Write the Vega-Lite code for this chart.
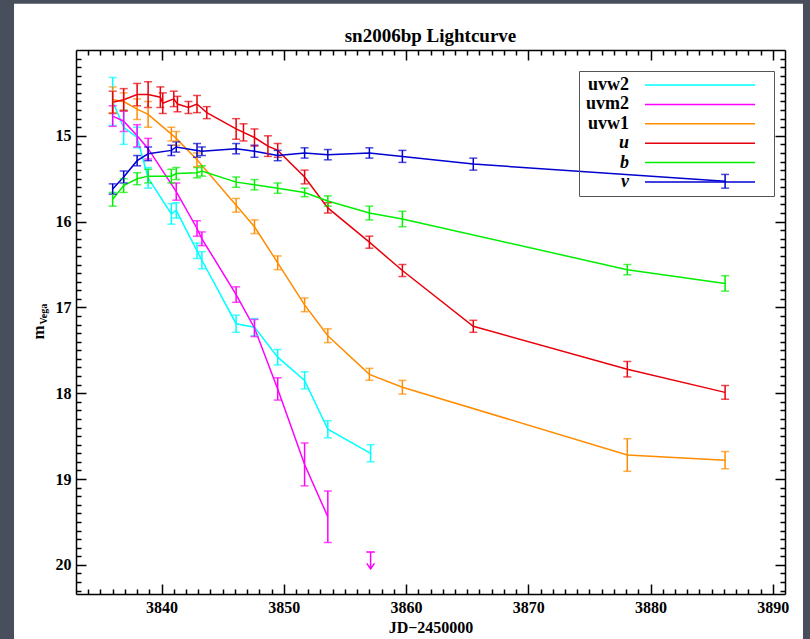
{
  "$schema": "https://vega.github.io/schema/vega-lite/v6.json",
  "width": 709,
  "height": 544,
  "autosize": "none",
  "padding": {"left": 76, "top": 50, "right": 25, "bottom": 45},
  "background": "#484e5b",
  "title": {"text": "sn2006bp Lightcurve", "font": "Liberation Serif", "fontSize": 19, "fontWeight": "bold", "color": "black", "anchor": "middle", "offset": -57, "baseline": "alphabetic"},
  "datasets": {
    "phot": [
      {"band": "uvw2", "jd": 3836.0, "mag": 14.60, "err": 0.28},
      {"band": "uvw2", "jd": 3836.9, "mag": 14.90, "err": 0.20},
      {"band": "uvw2", "jd": 3838.0, "mag": 15.02, "err": 0.12},
      {"band": "uvw2", "jd": 3838.9, "mag": 15.49, "err": 0.12},
      {"band": "uvw2", "jd": 3840.8, "mag": 15.91, "err": 0.12},
      {"band": "uvw2", "jd": 3841.2, "mag": 15.87, "err": 0.09},
      {"band": "uvw2", "jd": 3842.9, "mag": 16.34, "err": 0.09},
      {"band": "uvw2", "jd": 3843.3, "mag": 16.45, "err": 0.10},
      {"band": "uvw2", "jd": 3846.1, "mag": 17.19, "err": 0.10},
      {"band": "uvw2", "jd": 3847.6, "mag": 17.23, "err": 0.10},
      {"band": "uvw2", "jd": 3849.5, "mag": 17.58, "err": 0.09},
      {"band": "uvw2", "jd": 3851.7, "mag": 17.85, "err": 0.10},
      {"band": "uvw2", "jd": 3853.6, "mag": 18.42, "err": 0.10},
      {"band": "uvw2", "jd": 3857.1, "mag": 18.70, "err": 0.10},
      {"band": "uvm2", "jd": 3836.0, "mag": 14.77, "err": 0.12},
      {"band": "uvm2", "jd": 3836.9, "mag": 14.83, "err": 0.12},
      {"band": "uvm2", "jd": 3838.0, "mag": 15.00, "err": 0.13},
      {"band": "uvm2", "jd": 3838.9, "mag": 15.15, "err": 0.12},
      {"band": "uvm2", "jd": 3841.2, "mag": 15.65, "err": 0.10},
      {"band": "uvm2", "jd": 3842.9, "mag": 16.08, "err": 0.09},
      {"band": "uvm2", "jd": 3843.3, "mag": 16.20, "err": 0.08},
      {"band": "uvm2", "jd": 3846.1, "mag": 16.85, "err": 0.09},
      {"band": "uvm2", "jd": 3847.6, "mag": 17.24, "err": 0.10},
      {"band": "uvm2", "jd": 3849.5, "mag": 17.95, "err": 0.13},
      {"band": "uvm2", "jd": 3851.7, "mag": 18.83, "err": 0.25},
      {"band": "uvm2", "jd": 3853.6, "mag": 19.44, "err": 0.30},
      {"band": "uvw1", "jd": 3836.0, "mag": 14.58, "err": 0.15},
      {"band": "uvw1", "jd": 3836.9, "mag": 14.60, "err": 0.10},
      {"band": "uvw1", "jd": 3838.0, "mag": 14.69, "err": 0.12},
      {"band": "uvw1", "jd": 3838.9, "mag": 14.75, "err": 0.15},
      {"band": "uvw1", "jd": 3840.8, "mag": 14.98, "err": 0.08},
      {"band": "uvw1", "jd": 3841.2, "mag": 15.03, "err": 0.08},
      {"band": "uvw1", "jd": 3842.9, "mag": 15.28, "err": 0.08},
      {"band": "uvw1", "jd": 3846.1, "mag": 15.81, "err": 0.08},
      {"band": "uvw1", "jd": 3847.6, "mag": 16.06, "err": 0.08},
      {"band": "uvw1", "jd": 3849.5, "mag": 16.48, "err": 0.08},
      {"band": "uvw1", "jd": 3851.7, "mag": 16.97, "err": 0.08},
      {"band": "uvw1", "jd": 3853.6, "mag": 17.33, "err": 0.08},
      {"band": "uvw1", "jd": 3857.0, "mag": 17.78, "err": 0.07},
      {"band": "uvw1", "jd": 3859.7, "mag": 17.93, "err": 0.08},
      {"band": "uvw1", "jd": 3878.1, "mag": 18.72, "err": 0.19},
      {"band": "uvw1", "jd": 3886.1, "mag": 18.78, "err": 0.10},
      {"band": "u", "jd": 3836.0, "mag": 14.61, "err": 0.13},
      {"band": "u", "jd": 3836.9, "mag": 14.58, "err": 0.13},
      {"band": "u", "jd": 3838.0, "mag": 14.52, "err": 0.13},
      {"band": "u", "jd": 3838.9, "mag": 14.52, "err": 0.15},
      {"band": "u", "jd": 3839.9, "mag": 14.55, "err": 0.12},
      {"band": "u", "jd": 3840.1, "mag": 14.62, "err": 0.12},
      {"band": "u", "jd": 3841.0, "mag": 14.57, "err": 0.09},
      {"band": "u", "jd": 3841.3, "mag": 14.63, "err": 0.09},
      {"band": "u", "jd": 3842.2, "mag": 14.67, "err": 0.07},
      {"band": "u", "jd": 3842.9, "mag": 14.63, "err": 0.10},
      {"band": "u", "jd": 3843.7, "mag": 14.73, "err": 0.07},
      {"band": "u", "jd": 3846.1, "mag": 14.92, "err": 0.12},
      {"band": "u", "jd": 3846.7, "mag": 14.96, "err": 0.10},
      {"band": "u", "jd": 3847.6, "mag": 15.02, "err": 0.10},
      {"band": "u", "jd": 3848.7, "mag": 15.12, "err": 0.12},
      {"band": "u", "jd": 3849.5, "mag": 15.17, "err": 0.08},
      {"band": "u", "jd": 3851.7, "mag": 15.48, "err": 0.08},
      {"band": "u", "jd": 3853.6, "mag": 15.84, "err": 0.06},
      {"band": "u", "jd": 3857.0, "mag": 16.24, "err": 0.07},
      {"band": "u", "jd": 3859.7, "mag": 16.57, "err": 0.07},
      {"band": "u", "jd": 3865.5, "mag": 17.22, "err": 0.07},
      {"band": "u", "jd": 3878.1, "mag": 17.72, "err": 0.09},
      {"band": "u", "jd": 3886.1, "mag": 17.99, "err": 0.08},
      {"band": "b", "jd": 3836.0, "mag": 15.74, "err": 0.08},
      {"band": "b", "jd": 3836.9, "mag": 15.58, "err": 0.08},
      {"band": "b", "jd": 3838.0, "mag": 15.50, "err": 0.07},
      {"band": "b", "jd": 3838.9, "mag": 15.47, "err": 0.08},
      {"band": "b", "jd": 3840.8, "mag": 15.47, "err": 0.08},
      {"band": "b", "jd": 3841.2, "mag": 15.44, "err": 0.07},
      {"band": "b", "jd": 3842.9, "mag": 15.43, "err": 0.06},
      {"band": "b", "jd": 3843.3, "mag": 15.41, "err": 0.06},
      {"band": "b", "jd": 3846.1, "mag": 15.54, "err": 0.06},
      {"band": "b", "jd": 3847.6, "mag": 15.57, "err": 0.06},
      {"band": "b", "jd": 3849.5, "mag": 15.61, "err": 0.06},
      {"band": "b", "jd": 3851.7, "mag": 15.66, "err": 0.05},
      {"band": "b", "jd": 3853.6, "mag": 15.76, "err": 0.06},
      {"band": "b", "jd": 3857.0, "mag": 15.90, "err": 0.08},
      {"band": "b", "jd": 3859.7, "mag": 15.97, "err": 0.09},
      {"band": "b", "jd": 3878.1, "mag": 16.56, "err": 0.06},
      {"band": "b", "jd": 3886.1, "mag": 16.72, "err": 0.09},
      {"band": "v", "jd": 3836.0, "mag": 15.62, "err": 0.06},
      {"band": "v", "jd": 3836.9, "mag": 15.48, "err": 0.07},
      {"band": "v", "jd": 3838.0, "mag": 15.29, "err": 0.06},
      {"band": "v", "jd": 3838.9, "mag": 15.21, "err": 0.08},
      {"band": "v", "jd": 3840.8, "mag": 15.17, "err": 0.06},
      {"band": "v", "jd": 3841.2, "mag": 15.13, "err": 0.06},
      {"band": "v", "jd": 3842.9, "mag": 15.17, "err": 0.08},
      {"band": "v", "jd": 3843.3, "mag": 15.18, "err": 0.05},
      {"band": "v", "jd": 3846.1, "mag": 15.15, "err": 0.06},
      {"band": "v", "jd": 3847.6, "mag": 15.18, "err": 0.07},
      {"band": "v", "jd": 3849.5, "mag": 15.23, "err": 0.06},
      {"band": "v", "jd": 3851.7, "mag": 15.20, "err": 0.06},
      {"band": "v", "jd": 3853.6, "mag": 15.22, "err": 0.06},
      {"band": "v", "jd": 3857.0, "mag": 15.20, "err": 0.06},
      {"band": "v", "jd": 3859.7, "mag": 15.24, "err": 0.07},
      {"band": "v", "jd": 3865.5, "mag": 15.33, "err": 0.07},
      {"band": "v", "jd": 3886.1, "mag": 15.53, "err": 0.08}
    ],
    "lim": [
      {"band": "uvm2", "jd": 3857.1, "mag": 19.85}
    ]
  },
  "layer": [
    {
      "data": {"values": [{"k": 1}]},
      "mark": {"type": "rect", "fill": "white", "clip": false},
      "encoding": {
        "x": {"datum": 3827.93, "type": "quantitative", "scale": {"domain": [3833, 3891], "nice": false, "zero": false},
              "axis": {"orient": "top", "values": [3840, 3850, 3860, 3870, 3880, 3890], "tickSize": -10, "tickWidth": 1.5, "tickColor": "black", "labels": false, "domain": true, "domainColor": "black", "domainWidth": 1.5, "grid": false, "title": null, "zindex": 1}},
        "x2": {"datum": 3892.47},
        "y": {"datum": 13.46, "type": "quantitative", "scale": {"domain": [14, 20.34], "reverse": true, "nice": false, "zero": false},
              "axis": {"orient": "right", "values": [15, 16, 17, 18, 19, 20], "tickSize": -10, "tickWidth": 1.5, "tickColor": "black", "labels": false, "domain": true, "domainColor": "black", "domainWidth": 1.5, "grid": false, "title": null, "zindex": 1}},
        "y2": {"datum": 21.0}
      }
    },
    {
      "data": {"name": "phot"},
      "mark": {"type": "line", "strokeWidth": 1.5},
      "encoding": {
        "x": {"field": "jd", "type": "quantitative", "scale": {"domain": [3833, 3891], "nice": false, "zero": false},
              "axis": {"orient": "bottom", "values": [3840, 3850, 3860, 3870, 3880, 3890], "format": "d", "tickSize": -10, "tickWidth": 1.5, "tickColor": "black", "domain": true, "domainColor": "black", "domainWidth": 1.5, "grid": false, "zindex": 1,
                       "labelFont": "Liberation Serif", "labelFontSize": 16, "labelFontWeight": "bold", "labelColor": "black", "labelPadding": 15, "labelFlush": false, "labelOverlap": false,
                       "title": "JD−2450000", "titleFont": "Liberation Serif", "titleFontSize": 16, "titleFontWeight": "bold", "titleColor": "black", "titlePadding": 4}},
        "y": {"field": "mag", "type": "quantitative", "scale": {"domain": [14, 20.34], "reverse": true, "nice": false, "zero": false},
              "axis": {"orient": "left", "values": [15, 16, 17, 18, 19, 20], "format": "d", "tickSize": -10, "tickWidth": 1.5, "tickColor": "black", "domain": true, "domainColor": "black", "domainWidth": 1.5, "grid": false, "zindex": 1,
                       "labelFont": "Liberation Serif", "labelFontSize": 16, "labelFontWeight": "bold", "labelColor": "black", "labelPadding": 15, "labelFlush": false, "labelOverlap": false,
                       "title": "m", "titleFont": "Liberation Serif", "titleFontSize": 17, "titleFontWeight": "bold", "titleColor": "black", "titleAngle": -90, "titleX": -33, "titleY": 282, "titleBaseline": "alphabetic", "titleAlign": "center"}},
        "color": {"field": "band", "type": "nominal",
                  "scale": {"domain": ["uvw2", "uvm2", "uvw1", "u", "b", "v"], "range": ["#00ffff", "#ff00ff", "#ff8c00", "#e8000b", "#00ee00", "#0000d0"]},
                  "legend": {"orient": "none", "legendX": 503, "legendY": 21, "title": null, "direction": "vertical",
                             "symbolType": "M-10,0L10,0M12,0L12,0", "symbolSize": 121, "symbolStrokeWidth": 1.5, "symbolOffset": 107,
                             "labelAlign": "right", "labelOffset": -80, "labelFont": "Liberation Serif", "labelFontSize": 18, "labelFontWeight": "bold", "labelColor": "black", "labelBaseline": "middle",
                             "rowPadding": 1.4, "padding": 5, "strokeColor": "#555555",
                             "encode": {"labels": {"update": {"fontStyle": {"signal": "indexof(['u','b','v'], datum.value) >= 0 ? 'italic' : 'normal'"}}},
                                        "symbols": {"update": {"fill": {"value": "transparent"}, "strokeWidth": {"value": 1.5}}}}}}
      }
    },
    {
      "data": {"name": "phot"},
      "mark": {"type": "errorbar", "ticks": {"size": 8}, "thickness": 1.5},
      "encoding": {
        "x": {"field": "jd", "type": "quantitative", "scale": {"domain": [3833, 3891], "nice": false, "zero": false},
              "axis": {"orient": "top", "values": [3834, 3835, 3836, 3837, 3838, 3839, 3841, 3842, 3843, 3844, 3845, 3846, 3847, 3848, 3849, 3851, 3852, 3853, 3854, 3855, 3856, 3857, 3858, 3859, 3861, 3862, 3863, 3864, 3865, 3866, 3867, 3868, 3869, 3871, 3872, 3873, 3874, 3875, 3876, 3877, 3878, 3879, 3881, 3882, 3883, 3884, 3885, 3886, 3887, 3888, 3889], "tickSize": -5, "tickWidth": 1.5, "tickColor": "black", "labels": false, "domain": false, "grid": false, "title": null, "zindex": 1}},
        "y": {"field": "mag", "type": "quantitative", "scale": {"domain": [14, 20.34], "reverse": true, "nice": false, "zero": false},
              "axis": {"orient": "right", "values": [14.1, 14.2, 14.3, 14.4, 14.5, 14.6, 14.7, 14.8, 14.9, 15.1, 15.2, 15.3, 15.4, 15.5, 15.6, 15.7, 15.8, 15.9, 16.1, 16.2, 16.3, 16.4, 16.5, 16.6, 16.7, 16.8, 16.9, 17.1, 17.2, 17.3, 17.4, 17.5, 17.6, 17.7, 17.8, 17.9, 18.1, 18.2, 18.3, 18.4, 18.5, 18.6, 18.7, 18.8, 18.9, 19.1, 19.2, 19.3, 19.4, 19.5, 19.6, 19.7, 19.8, 19.9, 20.1, 20.2, 20.3], "tickSize": -5, "tickWidth": 1.5, "tickColor": "black", "labels": false, "domain": false, "grid": false, "title": null, "zindex": 1}},
        "yError": {"field": "err"},
        "color": {"field": "band", "type": "nominal", "legend": null}
      }
    },
    {
      "data": {"name": "lim"},
      "mark": {"type": "point", "shape": "M-0.5,0L0.5,0M0,0L0,2M-0.45,1.35L0,2L0.45,1.35", "size": 289, "filled": false, "strokeWidth": 1.5, "color": "#ff00ff", "opacity": 1},
      "encoding": {
        "x": {"field": "jd", "type": "quantitative", "scale": {"domain": [3833, 3891], "nice": false, "zero": false},
              "axis": {"orient": "bottom", "values": [3834, 3835, 3836, 3837, 3838, 3839, 3841, 3842, 3843, 3844, 3845, 3846, 3847, 3848, 3849, 3851, 3852, 3853, 3854, 3855, 3856, 3857, 3858, 3859, 3861, 3862, 3863, 3864, 3865, 3866, 3867, 3868, 3869, 3871, 3872, 3873, 3874, 3875, 3876, 3877, 3878, 3879, 3881, 3882, 3883, 3884, 3885, 3886, 3887, 3888, 3889], "tickSize": -5, "tickWidth": 1.5, "tickColor": "black", "labels": false, "domain": false, "grid": false, "title": null, "zindex": 1}},
        "y": {"field": "mag", "type": "quantitative", "scale": {"domain": [14, 20.34], "reverse": true, "nice": false, "zero": false},
              "axis": {"orient": "left", "values": [14.1, 14.2, 14.3, 14.4, 14.5, 14.6, 14.7, 14.8, 14.9, 15.1, 15.2, 15.3, 15.4, 15.5, 15.6, 15.7, 15.8, 15.9, 16.1, 16.2, 16.3, 16.4, 16.5, 16.6, 16.7, 16.8, 16.9, 17.1, 17.2, 17.3, 17.4, 17.5, 17.6, 17.7, 17.8, 17.9, 18.1, 18.2, 18.3, 18.4, 18.5, 18.6, 18.7, 18.8, 18.9, 19.1, 19.2, 19.3, 19.4, 19.5, 19.6, 19.7, 19.8, 19.9, 20.1, 20.2, 20.3], "tickSize": -5, "tickWidth": 1.5, "tickColor": "black", "labels": false, "domain": false, "grid": false, "zindex": 1,
                       "title": "Vega", "titleFont": "Liberation Serif", "titleFontSize": 10, "titleFontWeight": "bold", "titleColor": "black", "titleAngle": -90, "titleX": -30, "titleY": 274, "titleBaseline": "alphabetic", "titleAlign": "left"}}
      }
    }
  ],
  "resolve": {"axis": {"x": "independent", "y": "independent"}, "legend": {"color": "independent"}},
  "config": {"view": {"stroke": null}, "font": "Liberation Serif"}
}
